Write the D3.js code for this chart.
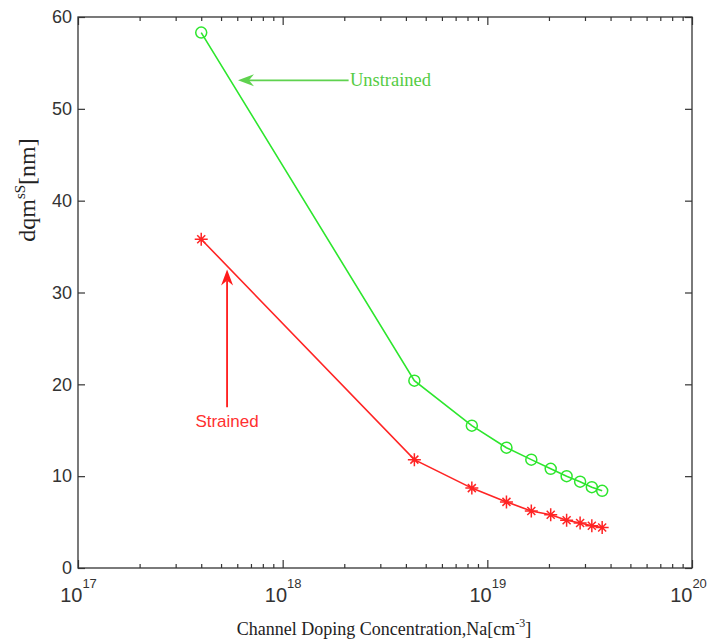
<html>
<head>
  <script src='https://d3js.org/d3.v7.min.js'></script>
  <style>
    body { margin: 0; background: #fff; }
    .tick text { font-family: 'Liberation Sans', Arial, sans-serif; fill: #333; }
  </style>
</head>
<body>
  <script>

    // data
    var doping = [4e17, 4.4e18, 8.4e18, 1.24e19, 1.64e19, 2.04e19, 2.44e19, 2.84e19, 3.24e19, 3.64e19];
    var unstrained = [58.3, 20.4, 15.5, 13.1, 11.8, 10.8, 10.0, 9.4, 8.8, 8.4];
    var strained = [35.8, 11.8, 8.7, 7.2, 6.2, 5.8, 5.2, 4.9, 4.6, 4.4];
    var yTicks = [0, 10, 20, 30, 40, 50, 60];
    var xDecades = [1e17, 1e18, 1e19, 1e20];

    var width = 708,
        height = 642;

    var svg = d3.select('body')
      .append('svg')
      .attr('width', width)
      .attr('height', height);

    var x = d3.scaleLog()
      .domain([1e17, 1e20])
      .range([78, 692]);

    var y = d3.scaleLinear()
      .domain([0, 60])
      .range([568, 17]);

    var minor = [];
    xDecades.slice(0, 3).forEach(function(d) {
      for (var k = 2; k < 10; k++) minor.push(d * k);
    });

    var axisColor = '#333';

    // box
    svg.append('rect')
      .attr('x', 78).attr('y', 17)
      .attr('width', 614).attr('height', 551)
      .attr('fill', 'none')
      .attr('stroke', axisColor)
      .attr('stroke-width', 1.3);

    function styleAxis(g) {
      g.select('.domain').remove();
      g.selectAll('.tick line').attr('stroke', axisColor).attr('stroke-width', 1.2);
    }

    // bottom major
    var bottom = svg.append('g')
      .attr('transform', 'translate(0,568)')
      .call(d3.axisBottom(x).tickValues(xDecades).tickSizeInner(-8).tickSizeOuter(0).tickFormat(''))
      .call(styleAxis);

    // last label nudged so it stays inside the page
    bottom.selectAll('.tick').append('text')
      .attr('x', function(d, i) { return i === xDecades.length - 1 ? -4 : 0; })
      .attr('y', 34)
      .attr('text-anchor', 'middle')
      .attr('font-size', 20)
      .each(function(d) {
        var t = d3.select(this);
        t.append('tspan').text('10');
        t.append('tspan')
          .attr('dy', -14)
          .attr('font-size', 13)
          .text(Math.round(Math.log10(d)));
      });

    svg.append('g')
      .attr('transform', 'translate(0,568)')
      .call(d3.axisBottom(x).tickValues(minor).tickSizeInner(-4).tickSizeOuter(0).tickFormat(''))
      .call(styleAxis);

    // top
    svg.append('g')
      .attr('transform', 'translate(0,17)')
      .call(d3.axisTop(x).tickValues(xDecades).tickSizeInner(-8).tickSizeOuter(0).tickFormat(''))
      .call(styleAxis);
    svg.append('g')
      .attr('transform', 'translate(0,17)')
      .call(d3.axisTop(x).tickValues(minor).tickSizeInner(-4).tickSizeOuter(0).tickFormat(''))
      .call(styleAxis);

    // left
    var left = svg.append('g')
      .attr('transform', 'translate(78,0)')
      .call(d3.axisLeft(y).tickValues(yTicks).tickSizeInner(-7).tickSizeOuter(0).tickPadding(6))
      .call(styleAxis);
    left.selectAll('.tick text').attr('font-size', 18);

    // right
    svg.append('g')
      .attr('transform', 'translate(692,0)')
      .call(d3.axisRight(y).tickValues(yTicks).tickSizeInner(-7).tickSizeOuter(0).tickFormat(''))
      .call(styleAxis);

    // axis titles
    var xt = svg.append('text')
      .attr('x', 384)
      .attr('y', 635)
      .attr('text-anchor', 'middle')
      .attr('font-family', "'Liberation Serif', 'Times New Roman', serif")
      .attr('font-size', 18)
      .attr('fill', '#222');
    xt.append('tspan').text('Channel Doping Concentration,Na[cm');
    xt.append('tspan').attr('dy', -8).attr('font-size', 12).text('-3');
    xt.append('tspan').attr('dy', 8).text(']');

    var yt = svg.append('text')
      .attr('transform', 'translate(35,190) rotate(-90)')
      .attr('text-anchor', 'middle')
      .attr('font-family', "'Liberation Serif', 'Times New Roman', serif")
      .attr('font-size', 24)
      .attr('fill', '#222');
    yt.append('tspan').text('dqm');
    yt.append('tspan').attr('dy', -10).attr('font-size', 15).text('sS');
    yt.append('tspan').attr('dy', 10).text('[nm]');

    // series
    var green = '#2de62d',
        red = '#ff2424';

    var line = d3.line()
      .x(function(d) { return x(d[0]); })
      .y(function(d) { return y(d[1]); });

    var gData = d3.zip(doping, unstrained);
    var rData = d3.zip(doping, strained);

    svg.append('path')
      .datum(gData)
      .attr('d', line)
      .attr('fill', 'none')
      .attr('stroke', green)
      .attr('stroke-width', 1.6);

    svg.append('path')
      .datum(rData)
      .attr('d', line)
      .attr('fill', 'none')
      .attr('stroke', red)
      .attr('stroke-width', 1.6);

    svg.append('g').selectAll('circle')
      .data(gData)
      .enter()
      .append('circle')
      .attr('cx', function(d) { return x(d[0]); })
      .attr('cy', function(d) { return y(d[1]); })
      .attr('r', 5.5)
      .attr('fill', 'none')
      .attr('stroke', green)
      .attr('stroke-width', 1.5);

    var star = 'M-6.5,0L6.5,0M0,-6.5L0,6.5M-4,-4L4,4M-4,4L4,-4';
    svg.append('g').selectAll('path')
      .data(rData)
      .enter()
      .append('path')
      .attr('transform', function(d) { return 'translate(' + x(d[0]) + ',' + y(d[1]) + ')'; })
      .attr('d', star)
      .attr('fill', 'none')
      .attr('stroke', red)
      .attr('stroke-width', 1.5);

    // annotations
    function arrow(x1, y1, x2, y2, color) {
      var ang = Math.atan2(y2 - y1, x2 - x1);
      var len = 16, wid = 6, back = 11;
      var bx = x2 - Math.cos(ang) * len, by = y2 - Math.sin(ang) * len;
      var mx = x2 - Math.cos(ang) * back, my = y2 - Math.sin(ang) * back;
      var px = -Math.sin(ang) * wid, py = Math.cos(ang) * wid;
      svg.append('line')
        .attr('x1', x1).attr('y1', y1)
        .attr('x2', mx).attr('y2', my)
        .attr('stroke', color).attr('stroke-width', 1.8);
      svg.append('path')
        .attr('d', 'M' + x2 + ',' + y2 + 'L' + (bx + px) + ',' + (by + py) +
                   'L' + mx + ',' + my + 'L' + (bx - px) + ',' + (by - py) + 'Z')
        .attr('fill', color);
    }

    arrow(x(2.1e18), y(53.1), x(6.05e17), y(53.1), '#5fd24f');
    svg.append('text')
      .attr('x', x(2.13e18))
      .attr('y', y(53.1) + 6)
      .attr('font-family', "'Liberation Serif', 'Times New Roman', serif")
      .attr('font-size', 18.5)
      .attr('fill', '#55cc44')
      .text('Unstrained');

    arrow(x(5.35e17), y(17.5), x(5.35e17), y(32.5), '#ff1a1a');
    svg.append('text')
      .attr('x', x(5.35e17))
      .attr('y', y(15.4))
      .attr('text-anchor', 'middle')
      .attr('font-family', "'Liberation Sans', Arial, sans-serif")
      .attr('font-size', 17)
      .attr('fill', '#ff3030')
      .text('Strained');

  </script>
</body>
</html>
